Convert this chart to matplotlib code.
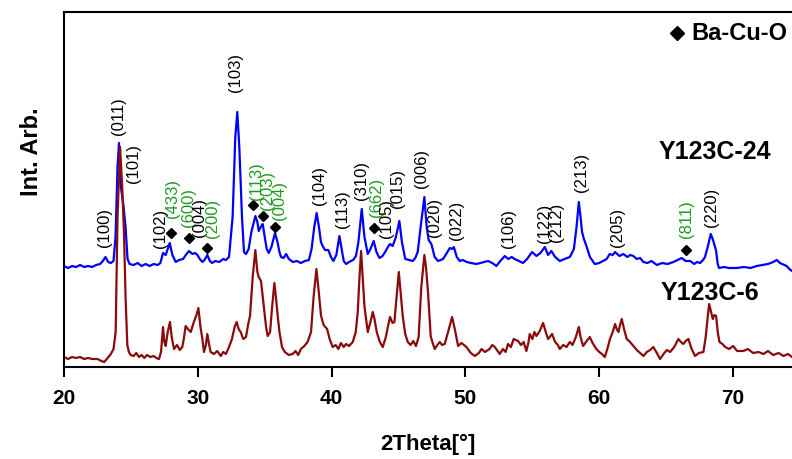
import numpy as np
import matplotlib.pyplot as plt
import matplotlib

# Difractogramas (2theta [grados], intensidad arbitraria ya desplazada)
tt_24 = [20.0, 20.3, 20.6, 20.9, 21.2, 21.5, 21.8, 22.1, 22.4, 22.7, 22.9, 23.1, 23.3, 23.5, 23.7, 23.85,
         24.0, 24.11, 24.25, 24.43, 24.6, 24.75, 24.9, 25.2, 25.5, 25.8, 26.1, 26.4, 26.7, 27.0, 27.2, 27.4,
         27.6, 27.9, 28.1, 28.35, 28.6, 28.9, 29.1, 29.34, 29.6, 29.8, 29.97, 30.15, 30.34, 30.5, 30.71, 30.9,
         31.07, 31.3, 31.6, 31.9, 32.1, 32.33, 32.6, 32.8, 32.95, 33.1, 33.3, 33.45, 33.6, 33.8, 34.0, 34.3,
         34.45, 34.55, 34.7, 34.85, 35.0, 35.15, 35.3, 35.5, 35.77, 35.95, 36.1, 36.22, 36.4, 36.6, 36.8, 37.1,
         37.4, 37.7, 38.0, 38.3, 38.5, 38.7, 38.88, 39.05, 39.2, 39.33, 39.5, 39.75, 39.95, 40.13, 40.35, 40.58,
         40.75, 40.9, 41.08, 41.3, 41.6, 41.82, 42.0, 42.25, 42.45, 42.7, 42.9, 43.14, 43.35, 43.57, 43.8, 44.0,
         44.2, 44.36, 44.56, 44.8, 45.06, 45.25, 45.5, 45.8, 46.06, 46.25, 46.43, 46.65, 46.93, 47.1, 47.25, 47.45,
         47.7, 47.95, 48.15, 48.33, 48.6, 48.83, 49.0, 49.13, 49.35, 49.57, 49.8, 50.1, 50.4, 50.82, 51.1, 51.4,
         51.69, 52.0, 52.31, 52.6, 52.94, 53.2, 53.45, 53.68, 54.0, 54.3, 54.6, 54.98, 55.3, 55.6, 55.93, 56.17,
         56.42, 56.7, 57.05, 57.4, 57.8, 58.1, 58.3, 58.47, 58.6, 58.71, 58.85, 59.04, 59.3, 59.66, 60.0, 60.28,
         60.55, 60.78, 61.0, 61.18, 61.5, 61.8, 62.1, 62.3, 62.55, 62.8, 63.05, 63.3, 63.6, 63.9, 64.3, 64.7,
         65.1, 65.54, 65.85, 66.16, 66.45, 66.79, 67.1, 67.3, 67.53, 67.75, 67.9, 68.1, 68.33, 68.5, 68.73, 68.85,
         68.95, 69.3, 69.7, 70.27, 70.8, 71.3, 71.77, 72.2, 72.6, 73.0, 73.26, 73.5, 74.0, 74.2, 74.4]
int_24 = [101, 99, 101, 100, 102, 100, 101, 100, 102, 103, 106, 110, 105, 104, 106, 130,
          200, 224, 180, 163, 140, 108, 103, 102, 104, 101, 103, 101, 103, 102, 104, 114,
          112, 124, 112, 105, 107, 108, 112, 116, 113, 114, 112, 108, 105, 107, 112, 106,
          104, 106, 105, 108, 107, 110, 150, 230, 255, 220, 150, 115, 113, 118, 135, 151,
          145, 136, 140, 143, 130, 118, 114, 120, 134, 125, 115, 110, 109, 113, 108, 105,
          106, 104, 106, 107, 118, 140, 154, 140, 125, 121, 117, 117, 110, 106, 112, 131,
          118, 106, 103, 105, 107, 111, 125, 158, 130, 113, 118, 126, 115, 109, 111, 115,
          120, 123, 121, 130, 146, 125, 108, 107, 106, 109, 115, 140, 170, 140, 127, 123,
          110, 106, 107, 108, 114, 119, 118, 120, 110, 106, 107, 105, 104, 103, 104, 105,
          106, 104, 101, 106, 111, 108, 110, 108, 106, 104, 108, 115, 111, 114, 120, 112,
          116, 110, 106, 108, 110, 118, 140, 165, 150, 135, 128, 121, 110, 103, 104, 106,
          108, 113, 112, 115, 111, 113, 110, 112, 111, 108, 109, 105, 104, 106, 102, 104,
          103, 105, 107, 109, 106, 106, 103, 105, 104, 107, 110, 120, 133, 127, 116, 103,
          99, 100, 99, 99, 100, 99, 101, 102, 103, 105, 107, 104, 101, 98, 96]

tt_6 = [20.0, 20.3, 20.6, 20.9, 21.2, 21.5, 21.8, 22.1, 22.5, 22.8, 23.0, 23.2, 23.5, 23.7, 23.86, 24.0,
        24.19, 24.35, 24.48, 24.6, 24.73, 24.85, 24.98, 25.2, 25.4, 25.6, 25.8, 26.0, 26.2, 26.45, 26.7, 26.9,
        27.1, 27.25, 27.4, 27.5, 27.6, 27.75, 27.92, 28.05, 28.22, 28.45, 28.65, 28.84, 28.95, 29.09, 29.25, 29.47,
        29.7, 29.9, 30.04, 30.2, 30.34, 30.46, 30.6, 30.71, 30.85, 30.96, 31.2, 31.45, 31.71, 31.9, 32.1, 32.33,
        32.55, 32.75, 32.9, 33.05, 33.2, 33.4, 33.6, 33.75, 33.9, 34.1, 34.3, 34.45, 34.55, 34.72, 34.85, 34.97,
        35.1, 35.22, 35.4, 35.55, 35.72, 35.85, 35.97, 36.1, 36.29, 36.5, 36.8, 37.09, 37.3, 37.5, 37.7, 37.96,
        38.2, 38.46, 38.65, 38.86, 39.0, 39.21, 39.4, 39.66, 39.85, 40.08, 40.3, 40.5, 40.7, 40.9, 41.08, 41.3,
        41.58, 41.8, 41.95, 42.08, 42.2, 42.32, 42.45, 42.7, 42.9, 43.07, 43.2, 43.37, 43.6, 43.82, 44.05, 44.2,
        44.36, 44.55, 44.69, 44.85, 45.02, 45.15, 45.31, 45.5, 45.69, 45.9, 46.1, 46.3, 46.5, 46.7, 46.93, 47.05,
        47.2, 47.4, 47.55, 47.7, 47.9, 48.08, 48.25, 48.45, 48.7, 49.0, 49.2, 49.45, 49.7, 50.07, 50.4, 50.7,
        51.0, 51.2, 51.45, 51.8, 52.0, 52.19, 52.4, 52.56, 52.8, 53.0, 53.18, 53.4, 53.6, 53.93, 54.15, 54.35,
        54.55, 54.7, 54.8, 55.0, 55.15, 55.3, 55.55, 55.8, 56.0, 56.17, 56.3, 56.47, 56.7, 56.9, 57.05, 57.3,
        57.55, 57.8, 58.0, 58.25, 58.47, 58.6, 58.79, 59.0, 59.29, 59.5, 59.78, 60.0, 60.2, 60.41, 60.6, 60.8,
        61.0, 61.18, 61.3, 61.43, 61.55, 61.68, 61.85, 62.05, 62.3, 62.55, 62.8, 63.05, 63.3, 63.55, 63.8, 64.04,
        64.3, 64.54, 64.8, 65.05, 65.29, 65.6, 65.91, 66.1, 66.28, 66.45, 66.66, 66.9, 67.16, 67.45, 67.78, 67.95,
        68.1, 68.21, 68.35, 68.48, 68.6, 68.73, 68.85, 68.98, 69.2, 69.41, 69.7, 70.0, 70.3, 70.77, 71.1, 71.5,
        71.9, 72.27, 72.6, 73.0, 73.4, 73.76, 74.1, 74.4]
int_6 = [10, 8, 10, 9, 10, 8, 9, 8, 8, 6, 5, 8, 13, 18, 35, 150,
         220, 180, 135, 70, 22, 15, 12, 11, 14, 10, 12, 9, 12, 10, 11, 9,
         8, 15, 40, 25, 21, 35, 45, 30, 18, 22, 17, 20, 28, 41, 38, 35,
         45, 52, 59, 40, 28, 15, 22, 33, 22, 15, 13, 16, 11, 15, 13, 20,
         28, 40, 45, 38, 35, 28, 30, 42, 51, 90, 117, 95, 90, 86, 70, 55,
         40, 31, 35, 60, 84, 68, 51, 35, 20, 15, 12, 13, 16, 12, 18, 21,
         25, 35, 70, 98, 80, 51, 42, 38, 28, 20, 22, 18, 24, 20, 23, 21,
         25, 35, 55, 90, 116, 90, 61, 35, 45, 55, 48, 35, 25, 20, 30, 40,
         50, 44, 45, 70, 95, 75, 51, 33, 25, 22, 26, 21, 30, 80, 112, 100,
         75, 31, 24, 18, 22, 25, 22, 23, 35, 50, 38, 21, 24, 20, 14, 11,
         14, 18, 15, 18, 22, 20, 16, 13, 18, 15, 23, 20, 28, 26, 22, 25,
         16, 24, 33, 28, 35, 31, 36, 44, 35, 28, 30, 33, 25, 22, 18, 22,
         20, 25, 22, 30, 40, 30, 21, 25, 30, 24, 18, 15, 13, 10, 18, 28,
         35, 43, 38, 35, 42, 48, 38, 28, 25, 21, 17, 14, 11, 15, 17, 20,
         14, 8, 13, 17, 15, 20, 28, 25, 23, 26, 28, 18, 11, 14, 15, 30,
         50, 63, 55, 48, 52, 51, 35, 25, 23, 20, 18, 21, 16, 16, 18, 14,
         15, 13, 16, 12, 14, 11, 13, 10]

# Indices de Miller (negro: Y123, verde: otras fases)
hkl_labels = ['(100)', '(011)', '(101)', '(102)', '(433)', '(600)', '(004)', '(200)', '(103)',
              '(113)', '(203)', '(004)', '(104)', '(113)', '(310)', '(662)', '(105)', '(015)',
              '(006)', '(020)', '(022)', '(106)', '(122)', '(212)', '(213)', '(205)', '(811)', '(220)']
hkl_x = [23.06, 24.04, 25.23, 27.23, 28.09, 29.34, 30.09, 31.08, 32.85,
         34.35, 35.22, 36.09, 39.08, 40.83, 42.2, 43.32, 44.07, 44.94,
         46.68, 47.71, 49.32, 53.18, 55.93, 56.79, 58.66, 61.33, 66.54, 68.41]
hkl_y = [121, 233, 185, 120, 150, 141, 131, 130, 276,
         168, 158, 148, 163, 140, 168, 151, 130, 160,
         180, 131, 128, 120, 125, 126, 176, 121, 130, 141]
hkl_green = [False, False, False, False, True, True, False, True, False,
             True, True, True, False, False, False, True, False, False,
             False, False, False, False, False, False, False, False, True, False]

# Picos de Ba-Cu-O
bacuo_x = [27.97, 29.34, 30.71, 34.15, 34.9, 35.79, 43.19, 66.49]
bacuo_y = [134, 129, 119, 162, 151, 140, 139, 117]

verde = '#1f9a1f'

matplotlib.rcParams.update({'font.family': 'Liberation Sans', 'font.size': 11})
fig = plt.figure(figsize=(7.92, 4.6), dpi=100)
ax = fig.add_axes([64/792, 1 - 368/460, 1 - 64/792, (368 - 13)/460])

ax.plot(tt_24, int_24, color='#0000ff', lw=1.6)
ax.plot(tt_6, int_6, color='#8b0a0a', lw=1.6)

for lab, x, y, g in zip(hkl_labels, hkl_x, hkl_y, hkl_green):
    ax.text(x, y, lab, rotation=90, ha='center', va='bottom', fontsize=12,
            color=verde if g else 'black')

ax.plot(bacuo_x, bacuo_y, 'kD', ms=5.5, ls='none')

# leyenda a mano
ax.plot([65.8], [334], 'kD', ms=7.5, clip_on=False)
ax.text(66.9, 334, 'Ba-Cu-O', fontsize=17, fontweight='bold', va='center', ha='left')
ax.text(68.6, 216, 'Y123C-24', fontsize=18, fontweight='bold', va='center', ha='center')
ax.text(68.3, 75, 'Y123C-6', fontsize=18, fontweight='bold', va='center', ha='center')

ax.set_xlim(20, 74.4)
ax.set_ylim(0, 355)
ax.set_yticks([])
ax.set_xticks([20, 30, 40, 50, 60, 70])
ax.tick_params(axis='x', length=7, width=1.5, pad=8, labelsize=15)
for t in ax.get_xticklabels():
    t.set_fontweight('bold')
ax.spines['right'].set_visible(False)
for s in ['left', 'top', 'bottom']:
    ax.spines[s].set_linewidth(1.5)

ax.set_xlabel('2Theta[°]', fontsize=16, fontweight='bold', labelpad=19)
fig.text(31/792, 1 - 152/460, 'Int. Arb.', rotation=90, fontsize=17, fontweight='bold',
         ha='center', va='center')

plt.savefig('out.png', dpi=100)
